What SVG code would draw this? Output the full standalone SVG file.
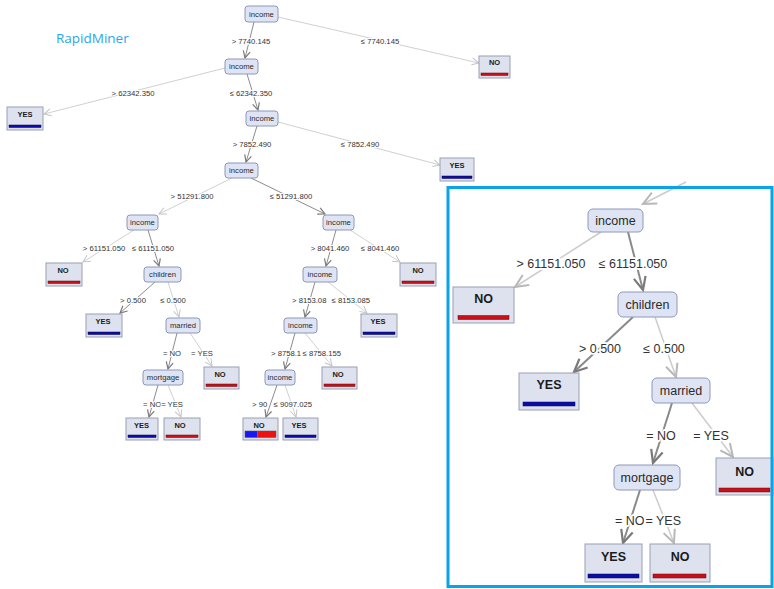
<svg xmlns="http://www.w3.org/2000/svg" width="774" height="589" viewBox="0 0 774 589">
<defs>
<style>
.bg{fill:#ffffff}
.nd{fill:#dfe4f4;stroke:#8e98ba;stroke-width:1}
.lf{fill:#dee2ef;stroke:#9aa0b4;stroke-width:1}
.nt{font-family:"Liberation Sans",Arial,sans-serif;font-size:7.7px;fill:#2a2a2a;text-anchor:middle}
.lt{font-family:"Liberation Sans",Arial,sans-serif;font-size:7.5px;font-weight:bold;fill:#1a1a1a;text-anchor:middle}
.et,.etl,.etr{font-family:"Liberation Sans",Arial,sans-serif;font-size:7.7px;fill:#333;paint-order:stroke;stroke:#fff;stroke-width:2.2px;stroke-linejoin:round}
.et{text-anchor:middle}
.etl{text-anchor:start}
.etr{text-anchor:end}
.Nt{font-family:"Liberation Sans",Arial,sans-serif;font-size:12.5px;fill:#2a2a2a;text-anchor:middle}
.Lt{font-family:"Liberation Sans",Arial,sans-serif;font-size:12.5px;font-weight:bold;fill:#1a1a1a;text-anchor:middle}
.Et,.Etl,.Etr{font-family:"Liberation Sans",Arial,sans-serif;font-size:12.5px;fill:#333;paint-order:stroke;stroke:#fff;stroke-width:3.5px;stroke-linejoin:round}
.Et{text-anchor:middle}
.Etl{text-anchor:start}
.Etr{text-anchor:end}
.red{fill:#c8101a;stroke:#6a0a0a;stroke-width:0.5}
.blue{fill:#0c0ca8;stroke:#050550;stroke-width:0.5}
.bred{fill:#ee1111}
.bblue{fill:#1818f0}
.el{fill:none;stroke:#d0d0d0;stroke-width:1;marker-end:url(#ms)}
.ed{fill:none;stroke:#8c8c8c;stroke-width:1;marker-end:url(#msd)}
.El{fill:none;stroke:#cccccc;stroke-width:1.5;marker-end:url(#ml)}
.Ed{fill:none;stroke:#8a8a8a;stroke-width:2;marker-end:url(#mld)}
</style>
<marker id="ms" markerUnits="userSpaceOnUse" viewBox="-10 -6 12 12" refX="0" refY="0" markerWidth="12" markerHeight="12" orient="auto" overflow="visible"><path d="M-7,-3.5 L0,0 L-7,3.5" fill="none" stroke="#c4c4c4" stroke-width="1"/></marker>
<marker id="msd" markerUnits="userSpaceOnUse" viewBox="-10 -6 12 12" refX="0" refY="0" markerWidth="12" markerHeight="12" orient="auto" overflow="visible"><path d="M-7,-3.5 L0,0 L-7,3.5" fill="none" stroke="#7a7a7a" stroke-width="1.2"/></marker>
<marker id="ml" markerUnits="userSpaceOnUse" viewBox="-16 -9 18 18" refX="0" refY="0" markerWidth="18" markerHeight="18" orient="auto" overflow="visible"><path d="M-13,-6 L0,0 L-13,6" fill="none" stroke="#b8b8b8" stroke-width="2"/></marker>
<marker id="mld" markerUnits="userSpaceOnUse" viewBox="-16 -9 18 18" refX="0" refY="0" markerWidth="18" markerHeight="18" orient="auto" overflow="visible"><path d="M-13,-6 L0,0 L-13,6" fill="none" stroke="#7a7a7a" stroke-width="2.2"/></marker>
</defs>
<rect class="bg" x="0" y="0" width="774" height="589"/>
<text id="brand" x="56" y="43" font-family="'Open Sans','Liberation Sans',sans-serif" font-size="13.5" fill="#2aa8e6">RapidMiner</text>

<g id="connectors">
<line class="ed" x1="254" y1="22" x2="245" y2="58"/>
<line class="el" x1="278" y1="17" x2="479" y2="63"/>
<line class="el" x1="225" y1="68" x2="44" y2="114"/>
<line class="ed" x1="247" y1="74" x2="258" y2="110"/>
<line class="ed" x1="257" y1="126" x2="246" y2="162"/>
<line class="el" x1="278" y1="122" x2="440" y2="165"/>
<line class="el" x1="232" y1="178" x2="159" y2="214"/>
<line class="ed" x1="251" y1="178" x2="325" y2="214"/>
<line class="el" x1="134" y1="230" x2="83" y2="262"/>
<line class="ed" x1="148" y1="230" x2="159" y2="266"/>
<line class="ed" x1="155" y1="282" x2="120" y2="313"/>
<line class="el" x1="168" y1="282" x2="179" y2="317"/>
<line class="ed" x1="177" y1="333" x2="168" y2="369"/>
<line class="el" x1="190" y1="333" x2="212" y2="366"/>
<line class="ed" x1="158" y1="385" x2="149" y2="417"/>
<line class="el" x1="168" y1="385" x2="181" y2="417"/>
<line class="ed" x1="336" y1="230" x2="326" y2="266"/>
<line class="el" x1="350" y1="230" x2="400" y2="262"/>
<line class="ed" x1="315" y1="282" x2="305" y2="317"/>
<line class="el" x1="328" y1="282" x2="367" y2="313"/>
<line class="ed" x1="295" y1="333" x2="285" y2="369"/>
<line class="el" x1="305" y1="333" x2="332" y2="366"/>
<line class="ed" x1="277" y1="385" x2="266" y2="417"/>
<line class="el" x1="285" y1="385" x2="296" y2="417"/>

<line class="El" x1="686" y1="182" x2="643" y2="204"/>
<line class="El" x1="601" y1="232" x2="515" y2="287"/>
<line class="Ed" x1="628" y1="232" x2="643" y2="290"/>
<line class="Ed" x1="633" y1="317" x2="574" y2="372"/>
<line class="El" x1="655" y1="317" x2="676" y2="377"/>
<line class="Ed" x1="672" y1="403" x2="653" y2="463"/>
<line class="El" x1="692" y1="403" x2="733" y2="457"/>
<line class="Ed" x1="640" y1="490" x2="623" y2="543"/>
<line class="El" x1="653" y1="490" x2="674" y2="543"/>

<text class="et" x="251" y="43.5">&gt; 7740.145</text>
<text class="et" x="380" y="43.5">≤ 7740.145</text>
<text class="et" x="133" y="95.5">&gt; 62342.350</text>
<text class="et" x="251" y="95.5">≤ 62342.350</text>
<text class="et" x="252" y="147">&gt; 7852.490</text>
<text class="et" x="360" y="147">≤ 7852.490</text>
<text class="et" x="192" y="198.5">&gt; 51291.800</text>
<text class="et" x="291" y="198.5">≤ 51291.800</text>
<text class="et" x="104" y="250.5">&gt; 61151.050</text>
<text class="et" x="153" y="250.5">≤ 61151.050</text>
<text class="et" x="330" y="250.5">&gt; 8041.460</text>
<text class="et" x="380" y="250.5">≤ 8041.460</text>
<text class="et" x="133" y="302.5">&gt; 0.500</text>
<text class="et" x="173" y="302.5">≤ 0.500</text>
<text class="etl" x="292" y="302.5">&gt; 8153.08</text>
<text class="etr" x="370" y="302.5">≤ 8153.085</text>
<text class="et" x="172" y="355.5">= NO</text>
<text class="et" x="202" y="355.5">= YES</text>
<text class="etl" x="271" y="355.5">&gt; 8758.1</text>
<text class="etr" x="341" y="355.5">≤ 8758.155</text>
<text class="etl" x="143" y="406.5">= NO</text>
<text class="etr" x="183" y="406.5">= YES</text>
<text class="etl" x="252" y="406.5">&gt; 90</text>
<text class="etr" x="312" y="406.5">≤ 9097.025</text>

<text class="Et" x="551" y="267.5">&gt; 61151.050</text>
<text class="Et" x="633" y="267.5">≤ 61151.050</text>
<text class="Et" x="600" y="352.5">&gt; 0.500</text>
<text class="Et" x="664" y="352.5">≤ 0.500</text>
<text class="Et" x="661" y="439.5">= NO</text>
<text class="Et" x="711" y="439.5">= YES</text>
<text class="Etl" x="615" y="524.5">= NO</text>
<text class="Etr" x="681" y="524.5">= YES</text>
</g>

<g id="n-root"><rect class="nd" x="245" y="6" width="33" height="16" rx="3"/><text class="nt" x="261.5" y="16.7">income</text></g>
<g id="n-income2"><rect class="nd" x="225" y="59" width="33" height="15" rx="3"/><text class="nt" x="241.5" y="69.2">income</text></g>
<g id="n-income3"><rect class="nd" x="246" y="111" width="32" height="15" rx="3"/><text class="nt" x="262" y="121.2">income</text></g>
<g id="n-income4"><rect class="nd" x="225" y="163" width="33" height="15" rx="3"/><text class="nt" x="241.5" y="173.2">income</text></g>
<g id="n-income5"><rect class="nd" x="127" y="215" width="31" height="15" rx="3"/><text class="nt" x="142.5" y="225.2">income</text></g>
<g id="n-income6"><rect class="nd" x="323" y="215" width="31" height="15" rx="3"/><text class="nt" x="338.5" y="225.2">income</text></g>
<g id="n-children"><rect class="nd" x="144" y="267" width="37" height="15" rx="3"/><text class="nt" x="162.5" y="277.2">children</text></g>
<g id="n-income7"><rect class="nd" x="303" y="267" width="34" height="15" rx="3"/><text class="nt" x="320" y="277.2">income</text></g>
<g id="n-married"><rect class="nd" x="166" y="318" width="34" height="15" rx="3"/><text class="nt" x="183" y="328.2">married</text></g>
<g id="n-income8"><rect class="nd" x="284" y="318" width="33" height="15" rx="3"/><text class="nt" x="300.5" y="328.2">income</text></g>
<g id="n-mortgage"><rect class="nd" x="143" y="370" width="40" height="15" rx="3"/><text class="nt" x="163" y="380.2">mortgage</text></g>
<g id="n-income9"><rect class="nd" x="265" y="370" width="30" height="15" rx="3"/><text class="nt" x="280" y="380.2">income</text></g>

<g id="l-1"><rect class="lf" x="479" y="56" width="31" height="22"/><text class="lt" x="494.5" y="65">NO</text><rect class="red" x="481" y="73" width="27" height="2.5"/></g>
<g id="l-2"><rect class="lf" x="7" y="107" width="36" height="23"/><text class="lt" x="25" y="116.5">YES</text><rect class="blue" x="9" y="125" width="32" height="2.5"/></g>
<g id="l-3"><rect class="lf" x="440" y="158" width="34" height="23"/><text class="lt" x="457" y="167.5">YES</text><rect class="blue" x="442" y="176" width="30" height="2.5"/></g>
<g id="l-5"><rect class="lf" x="46" y="263" width="36" height="23"/><text class="lt" x="63" y="272.5">NO</text><rect class="red" x="48" y="281" width="32" height="2.5"/></g>
<g id="l-6"><rect class="lf" x="400" y="263" width="36" height="23"/><text class="lt" x="418" y="272.5">NO</text><rect class="red" x="402" y="281" width="32" height="2.5"/></g>
<g id="l-7"><rect class="lf" x="86" y="314" width="36" height="23"/><text class="lt" x="103" y="323.5">YES</text><rect class="blue" x="88" y="332" width="32" height="2.5"/></g>
<g id="l-8"><rect class="lf" x="361" y="314" width="36" height="23"/><text class="lt" x="378" y="323.5">YES</text><rect class="blue" x="363" y="332" width="32" height="2.5"/></g>
<g id="l-9"><rect class="lf" x="204" y="367" width="35" height="22"/><text class="lt" x="220" y="376.5">NO</text><rect class="red" x="206" y="384" width="31" height="2.5"/></g>
<g id="l-10"><rect class="lf" x="322" y="367" width="35" height="22"/><text class="lt" x="338" y="376.5">NO</text><rect class="red" x="324" y="384" width="31" height="2.5"/></g>
<g id="l-11"><rect class="lf" x="126" y="418" width="32" height="22"/><text class="lt" x="141.5" y="427.5">YES</text><rect class="blue" x="128" y="435" width="28" height="2.5"/></g>
<g id="l-12"><rect class="lf" x="164" y="418" width="36" height="22"/><text class="lt" x="180" y="427.5">NO</text><rect class="red" x="166" y="435" width="32" height="2.5"/></g>
<g id="l-13"><rect class="lf" x="243" y="418" width="35" height="22"/><text class="lt" x="259" y="427.5">NO</text><rect class="bblue" x="245" y="431" width="12.5" height="6.5"/><rect class="bred" x="257.5" y="431" width="18.5" height="6.5"/><rect x="245" y="431" width="31" height="6.5" fill="none" stroke="#555" stroke-width="0.5"/></g>
<g id="l-14"><rect class="lf" x="283" y="418" width="35" height="22"/><text class="lt" x="299" y="427.5">YES</text><rect class="blue" x="285" y="435" width="31" height="2.5"/></g>

<g id="i-income"><rect class="nd" x="588" y="209" width="55" height="23" rx="5"/><text class="Nt" x="615.5" y="225">income</text></g>
<g id="i-children"><rect class="nd" x="618" y="292" width="59" height="25" rx="5"/><text class="Nt" x="647.5" y="309">children</text></g>
<g id="i-married"><rect class="nd" x="652" y="378" width="58" height="25" rx="5"/><text class="Nt" x="681" y="395">married</text></g>
<g id="i-mortgage"><rect class="nd" x="614" y="465" width="66" height="25" rx="5"/><text class="Nt" x="647" y="482">mortgage</text></g>
<g id="i-l-no1"><rect class="lf" x="453" y="287" width="61" height="36"/><text class="Lt" x="483.5" y="303">NO</text><rect class="red" x="458" y="315.5" width="51" height="4"/></g>
<g id="i-l-yes1"><rect class="lf" x="519" y="373" width="60" height="37"/><text class="Lt" x="549" y="389">YES</text><rect class="blue" x="523" y="402" width="52" height="4"/></g>
<g id="i-l-no2"><rect class="lf" x="716" y="458" width="57" height="37"/><text class="Lt" x="744.5" y="476">NO</text><rect class="red" x="719" y="488" width="51" height="4"/></g>
<g id="i-l-yes2"><rect class="lf" x="585" y="544" width="57" height="38"/><text class="Lt" x="613.5" y="561">YES</text><rect class="blue" x="588" y="574" width="51" height="4"/></g>
<g id="i-l-no3"><rect class="lf" x="650" y="544" width="60" height="38"/><text class="Lt" x="680" y="561">NO</text><rect class="red" x="653" y="574" width="53" height="4"/></g>

<rect id="inset-frame" x="448" y="187.5" width="324" height="399" fill="none" stroke="#0aa3e8" stroke-width="3"/>
</svg>
